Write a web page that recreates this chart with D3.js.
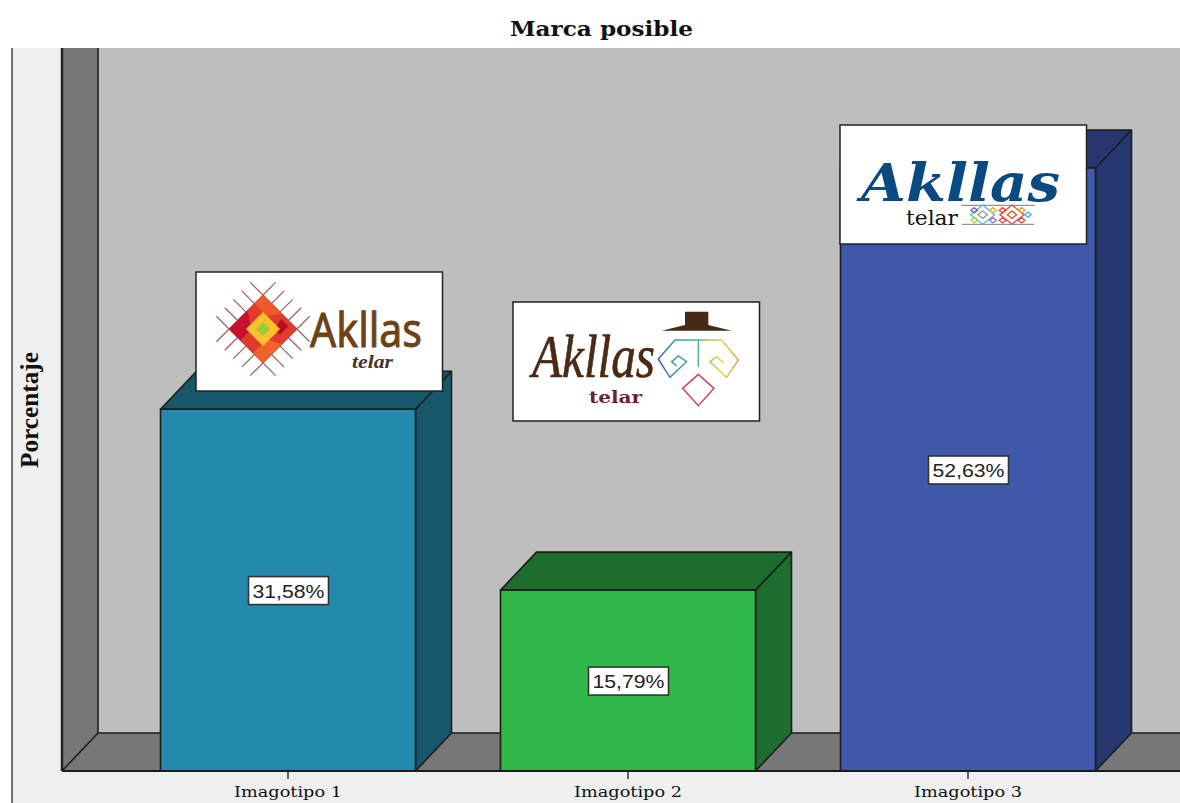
<!DOCTYPE html>
<html><head><meta charset="utf-8">
<script src="https://cdn.jsdelivr.net/npm/d3@7/dist/d3.min.js"></script>
<style>html,body{margin:0;padding:0;background:#fff;overflow:hidden}svg{display:block}</style>
</head><body><svg id="c" width="1180" height="803"></svg>
<script>
const categories = ["Imagotipo 1", "Imagotipo 2", "Imagotipo 3"];
const percentages = [31.58, 15.79, 52.63];
const frontColors = ["#2389ad", "#30b84a", "#3f58ac"];
const sideColors = ["#17566b", "#1d6e2e", "#263770"];
const titleText = "Marca posible";
const yAxisTitle = "Porcentaje";

const svg = d3.select("#c");
const ink = "#1c1c1c";
const floorY = 771, depthX = 36, depthY = 38;
const x = d3.scaleBand().domain(categories).range([118, 1138]).paddingInner(.25).paddingOuter(.125);
const y = d3.scaleLinear().domain([0, 52.63]).range([floorY, 168]);
const fmt = v => v.toFixed(2).replace(".", ",") + "%";

// panel, walls, floor
svg.append("rect").attr("x", 12).attr("y", 48).attr("width", 1168).attr("height", 755).attr("fill", "#efefef");
svg.append("line").attr("x1", 12).attr("x2", 12).attr("y1", 48).attr("y2", 803).attr("stroke", "#444").attr("stroke-width", 1.5);
svg.append("rect").attr("x", 98).attr("y", 48).attr("width", 1082).attr("height", floorY - depthY - 48).attr("fill", "#bebebe");
svg.append("path").attr("d", `M62 48H98V${floorY - depthY}L62 ${floorY}Z`).attr("fill", "#777");
svg.append("path").attr("d", `M62 ${floorY}L98 ${floorY - depthY}H1180V${floorY}Z`).attr("fill", "#777");
svg.append("path").attr("fill", "none").attr("stroke", ink).attr("stroke-width", 1.6)
  .attr("d", `M98 48V${floorY - depthY}H1180M98 ${floorY - depthY}L62 ${floorY}`);
svg.append("line").attr("x1", 62).attr("x2", 62).attr("y1", 48).attr("y2", floorY).attr("stroke", ink).attr("stroke-width", 2.4);

// bars
const rows = categories.map((c, i) => ({c, v: percentages[i], f: frontColors[i], s: sideColors[i]}));
const bar = svg.selectAll("g.bar").data(rows).join("g").attr("class", "bar");
bar.append("path").attr("fill", d => d.s).attr("stroke", ink).attr("stroke-width", 1.6).attr("stroke-linejoin", "round")
  .attr("d", d => {
    const l = x(d.c), r = l + x.bandwidth(), t = y(d.v);
    return `M${l} ${t}L${l + depthX} ${t - depthY}H${r + depthX}V${floorY - depthY}L${r} ${floorY}V${t}Z`;
  });
bar.append("path").attr("fill", "none").attr("stroke", ink).attr("stroke-width", 1.6)
  .attr("d", d => { const r = x(d.c) + x.bandwidth(), t = y(d.v); return `M${r} ${t}L${r + depthX} ${t - depthY}`; });
bar.append("rect").attr("x", d => x(d.c)).attr("y", d => y(d.v)).attr("width", x.bandwidth())
  .attr("height", d => floorY - y(d.v)).attr("fill", d => d.f).attr("stroke", ink).attr("stroke-width", 1.6);

// axis
const axis = svg.append("g").attr("transform", `translate(0,${floorY})`)
  .call(d3.axisBottom(x).tickSize(8).tickPadding(7.5).tickSizeOuter(0));
axis.select(".domain").remove();
axis.selectAll("line").attr("stroke", "#333").attr("stroke-width", 1.5);
axis.selectAll("text").attr("font-family", "'DejaVu Serif'").attr("font-size", 15).attr("fill", "#111")
  .attr("textLength", 108).attr("lengthAdjust", "spacingAndGlyphs");
svg.append("line").attr("x1", 62).attr("x2", 1180).attr("y1", floorY).attr("y2", floorY).attr("stroke", ink).attr("stroke-width", 1.8);

// value labels
const lab = svg.selectAll("g.lab").data(rows).join("g").attr("class", "lab")
  .attr("transform", d => `translate(${x(d.c) + x.bandwidth() / 2 + .5},${(y(d.v) + floorY) / 2 + .5})`);
lab.append("rect").attr("x", -40).attr("y", -14).attr("width", 80).attr("height", 28)
  .attr("fill", "#fff").attr("stroke", "#333").attr("stroke-width", 1.6);
lab.append("text").attr("text-anchor", "middle").attr("y", 7).attr("font-family", "'Liberation Sans'")
  .attr("font-size", 19).attr("fill", "#222").attr("textLength", 72).attr("lengthAdjust", "spacingAndGlyphs").text(d => fmt(d.v));

// titles
svg.append("text").attr("x", 601.5).attr("y", 36).attr("text-anchor", "middle").attr("font-family", "'DejaVu Serif'")
  .attr("font-weight", "bold").attr("font-size", 21).attr("fill", "#111")
  .attr("textLength", 183).attr("lengthAdjust", "spacingAndGlyphs").text(titleText);
svg.append("text").attr("transform", "translate(38,410) rotate(-90)").attr("text-anchor", "middle")
  .attr("font-family", "'Liberation Serif'").attr("font-weight", "bold").attr("font-size", 26).attr("fill", "#111")
  .attr("textLength", 116).attr("lengthAdjust", "spacingAndGlyphs").text(yAxisTitle);

// logo cards (decoration pasted over the chart)
function card(px, py) {
  svg.append("rect").attr("x", px).attr("y", py).attr("width", 246.5).attr("height", 119)
    .attr("fill", "#fff").attr("stroke", "#222").attr("stroke-width", 1.5);
}
function word(t, px, py, len, size, fam, col, opts = {}) {
  svg.append("text").attr("x", px).attr("y", py).attr("font-family", fam).attr("font-size", size).attr("fill", col)
    .attr("font-style", opts.style || null).attr("font-weight", opts.weight || null)
    .attr("stroke", opts.stroke ? col : null).attr("stroke-width", opts.stroke || null)
    .attr("transform", opts.transform || null)
    .attr("textLength", len).attr("lengthAdjust", "spacingAndGlyphs").text(t);
}

// logo 1
card(196, 272);
const m1 = svg.append("g").attr("transform", "translate(263,329) rotate(45)");
[-24, -12, 0, 12, 24].forEach(o => {
  m1.append("line").attr("x1", o).attr("x2", o).attr("y1", -42).attr("y2", 42).attr("stroke", "#96605f").attr("stroke-width", 1.2);
  m1.append("line").attr("y1", o).attr("y2", o).attr("x1", -42).attr("x2", 42).attr("stroke", "#96605f").attr("stroke-width", 1.2);
});
m1.append("rect").attr("x", -24).attr("y", -24).attr("width", 48).attr("height", 48).attr("fill", "#e23a2c");
m1.append("path").attr("d", "M-24 -24H2L-6 -12H-24Z").attr("fill", "#ee5a2c");
m1.append("path").attr("d", "M24 24V-2L10 4V24Z").attr("fill", "#f2622c");
m1.append("path").attr("d", "M-24 24V-2L-8 8V24Z").attr("fill", "#c8102e");
m1.append("path").attr("d", "M6 -20H16V-8L8 -8Z").attr("fill", "#b80d1e");
m1.append("rect").attr("x", -12).attr("y", -12).attr("width", 24).attr("height", 24).attr("fill", "#f9c22e");
m1.append("rect").attr("x", -5).attr("y", -5).attr("width", 10).attr("height", 10).attr("fill", "#9ccb3b");
word("Akllas", 310, 347, 112, 47, "'Noto Sans'", "#6b4315", {stroke: .9});
word("telar", 352, 368, 41, 18, "'Liberation Serif'", "#4a3326", {style: "italic", weight: "bold"});

// logo 2
card(513, 302);
word("Akllas", 532, 377, 123, 62, "'Liberation Serif'", "#4a2a14", {style: "italic", stroke: .7});
word("telar", 589, 403, 53, 17, "'DejaVu Serif'", "#6b2035", {weight: "bold"});
const defs = svg.append("defs");
const grad = defs.append("linearGradient").attr("id", "g2").attr("gradientUnits", "userSpaceOnUse")
  .attr("x1", 475).attr("x2", 715).attr("y1", 0).attr("y2", 0);
[[0, "#4a55a8"], [.2, "#3a9ab0"], [.5, "#5ab58a"], [.78, "#d8d84a"], [1, "#e8a050"]]
  .forEach(s => grad.append("stop").attr("offset", s[0]).attr("stop-color", s[1]));
const m2 = svg.append("g").attr("transform", "translate(500,290) scale(.3333)");
m2.append("path").attr("d", "M555 65H625V105L695 122H485L555 105Z").attr("fill", "#472a15");
m2.append("path").attr("fill", "none").attr("stroke", "url(#g2)").attr("stroke-width", 4.5)
  .attr("d", "M530 228L515 215L535 198L560 215L510 262L475 207L525 150H665L715 210L680 262L630 215L650 200L670 218M595 150V230");
m2.append("path").attr("d", "M595 253L642 295L595 347L548 295Z").attr("fill", "none").attr("stroke", "#c9485a").attr("stroke-width", 4.5);

// logo 3
card(840, 125);
word("Akllas", 861, 201, 199, 52, "'DejaVu Serif'", "#0a4a82", {style: "italic", weight: "bold"});
word("telar", 906, 225, 52, 21, "'DejaVu Serif'", "#111");
const m3 = svg.append("g").attr("transform", "translate(830,115) scale(.3333)");
m3.append("path").attr("d", "M394 271H614M396 328H612").attr("stroke", "#777").attr("stroke-width", 3);
[[458, 299, 36, "#4db8e8"], [458, 299, 14, "#9a9a9a"], [546, 299, 36, "#e0493f"], [546, 299, 14, "#c8602a"],
 [433, 286, 10, "#8a5cc0"], [433, 316, 10, "#b5cc3c"], [489, 286, 10, "#e0b030"], [489, 316, 10, "#a86cc0"],
 [518, 286, 10, "#e0493f"], [575, 286, 10, "#e0a030"], [518, 316, 10, "#e0493f"], [575, 316, 10, "#e0493f"],
 [594, 299, 10, "#4db8e8"]]
  .forEach(d => m3.append("path").attr("fill", "none").attr("stroke", d[3]).attr("stroke-width", 4)
    .attr("d", `M${d[0]} ${d[1] - d[2] * .8}L${d[0] + d[2]} ${d[1]}L${d[0]} ${d[1] + d[2] * .8}L${d[0] - d[2]} ${d[1]}Z`));
</script></body></html>
